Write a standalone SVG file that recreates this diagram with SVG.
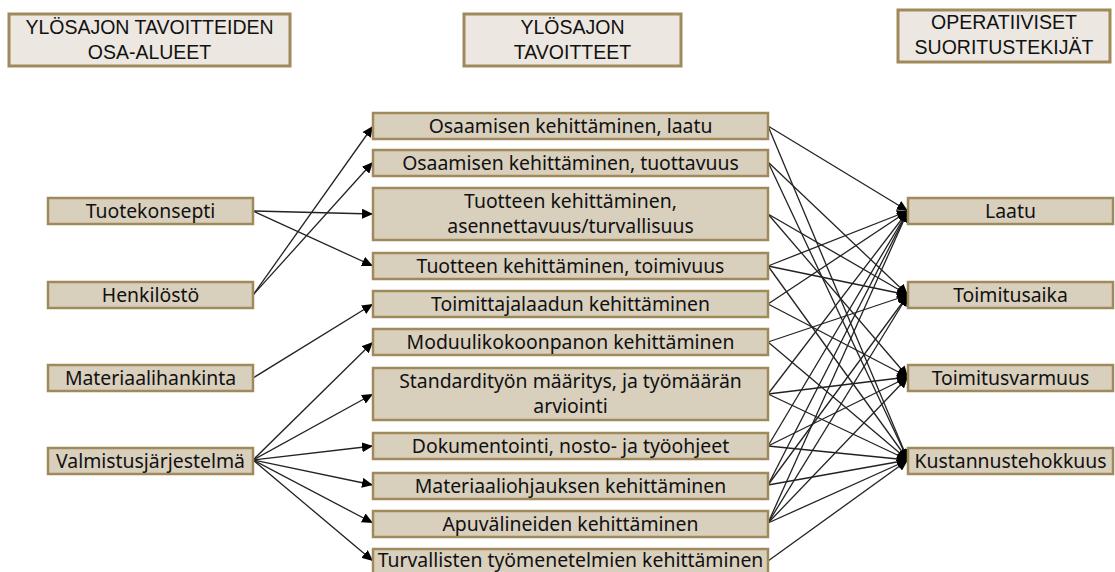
<svg xmlns="http://www.w3.org/2000/svg" width="1115" height="572" viewBox="0 0 1115 572">
  <style>
    .hdr rect { fill: #ece7e0; stroke: #a08a5c; stroke-width: 3; }
    .hdr text { font-family: "Liberation Sans", Arial, sans-serif; font-size: 19.5px; fill: #111; text-anchor: middle; }
    .node rect { fill: #d9cfbd; stroke: #a08a5c; stroke-width: 2.5; }
    .node text { font-family: "Noto Sans", "Open Sans", sans-serif; font-size: 19.4px; fill: #111; text-anchor: middle; }
    #connectors line { stroke: #222; stroke-width: 1.3; marker-end: url(#arrow); }
  </style>
  <defs>
    <marker id="arrow" markerUnits="userSpaceOnUse" markerWidth="12" markerHeight="10" refX="11" refY="5" orient="auto">
      <path d="M0,0 L11,5 L0,10 Z" fill="#000"/>
    </marker>
  </defs>
  <rect width="1115" height="572" fill="#fff"/>

  <!-- column headers -->
  <g id="hdr-osa-alueet" class="hdr">
    <rect x="9" y="14" width="281" height="52"/>
    <text x="149.5" y="34">YLÖSAJON TAVOITTEIDEN</text>
    <text x="149.5" y="59">OSA-ALUEET</text>
  </g>
  <g id="hdr-tavoitteet" class="hdr">
    <rect x="464" y="14" width="217" height="52"/>
    <text x="572.5" y="34">YLÖSAJON</text>
    <text x="572.5" y="59">TAVOITTEET</text>
  </g>
  <g id="hdr-suoritustekijat" class="hdr">
    <rect x="898" y="10" width="212" height="52"/>
    <text x="1004" y="29">OPERATIIVISET</text>
    <text x="1004" y="54">SUORITUSTEKIJÄT</text>
  </g>

  <!-- connectors -->
  <g id="connectors">
    <!-- left column to goals -->
    <line x1="253" y1="211" x2="373" y2="214"/>
    <line x1="253" y1="211" x2="373" y2="266"/>
    <line x1="253" y1="295" x2="373" y2="126"/>
    <line x1="253" y1="295" x2="373" y2="162"/>
    <line x1="253" y1="378" x2="373" y2="304"/>
    <line x1="253" y1="460" x2="373" y2="342"/>
    <line x1="253" y1="460" x2="373" y2="394"/>
    <line x1="253" y1="460" x2="373" y2="446"/>
    <line x1="253" y1="460" x2="373" y2="485"/>
    <line x1="253" y1="460" x2="373" y2="523"/>
    <line x1="253" y1="460" x2="373" y2="561"/>
    <!-- goals to performance factors -->
    <line x1="768" y1="126" x2="908" y2="211"/>
    <line x1="768" y1="126" x2="908" y2="460"/>
    <line x1="768" y1="162" x2="908" y2="295"/>
    <line x1="768" y1="162" x2="908" y2="460"/>
    <line x1="768" y1="214" x2="908" y2="295"/>
    <line x1="768" y1="214" x2="908" y2="377"/>
    <line x1="768" y1="266" x2="908" y2="211"/>
    <line x1="768" y1="266" x2="908" y2="295"/>
    <line x1="768" y1="266" x2="908" y2="460"/>
    <line x1="768" y1="304" x2="908" y2="211"/>
    <line x1="768" y1="304" x2="908" y2="377"/>
    <line x1="768" y1="342" x2="908" y2="295"/>
    <line x1="768" y1="342" x2="908" y2="460"/>
    <line x1="768" y1="394" x2="908" y2="211"/>
    <line x1="768" y1="394" x2="908" y2="377"/>
    <line x1="768" y1="394" x2="908" y2="460"/>
    <line x1="768" y1="446" x2="908" y2="211"/>
    <line x1="768" y1="446" x2="908" y2="377"/>
    <line x1="768" y1="446" x2="908" y2="460"/>
    <line x1="768" y1="485" x2="908" y2="211"/>
    <line x1="768" y1="485" x2="908" y2="295"/>
    <line x1="768" y1="485" x2="908" y2="460"/>
    <line x1="768" y1="523" x2="908" y2="211"/>
    <line x1="768" y1="523" x2="908" y2="295"/>
    <line x1="768" y1="523" x2="908" y2="377"/>
    <line x1="768" y1="523" x2="908" y2="460"/>
    <line x1="768" y1="561" x2="908" y2="460"/>
  </g>

  <!-- left column -->
  <g id="tuotekonsepti" class="node">
    <rect x="48" y="198" width="205" height="26"/>
    <text x="150.5" y="218">Tuotekonsepti</text>
  </g>
  <g id="henkilosto" class="node">
    <rect x="48" y="282" width="205" height="26"/>
    <text x="150.5" y="302">Henkilöstö</text>
  </g>
  <g id="materiaalihankinta" class="node">
    <rect x="48" y="365" width="205" height="26"/>
    <text x="150.5" y="385">Materiaalihankinta</text>
  </g>
  <g id="valmistusjarjestelma" class="node">
    <rect x="48" y="448" width="205" height="26"/>
    <text x="150.5" y="468">Valmistusjärjestelmä</text>
  </g>

  <!-- goals column -->
  <g id="osaaminen-laatu" class="node">
    <rect x="373" y="113" width="395" height="26"/>
    <text x="570.5" y="133">Osaamisen kehittäminen, laatu</text>
  </g>
  <g id="osaaminen-tuottavuus" class="node">
    <rect x="373" y="150" width="395" height="26"/>
    <text x="570.5" y="170">Osaamisen kehittäminen, tuottavuus</text>
  </g>
  <g id="tuote-asennettavuus" class="node">
    <rect x="373" y="188" width="395" height="52"/>
    <text x="570.5" y="208">Tuotteen kehittäminen,</text>
    <text x="570.5" y="233">asennettavuus/turvallisuus</text>
  </g>
  <g id="tuote-toimivuus" class="node">
    <rect x="373" y="253" width="395" height="26"/>
    <text x="570.5" y="273">Tuotteen kehittäminen, toimivuus</text>
  </g>
  <g id="toimittajalaatu" class="node">
    <rect x="373" y="291" width="395" height="26"/>
    <text x="570.5" y="311">Toimittajalaadun kehittäminen</text>
  </g>
  <g id="moduulikokoonpano" class="node">
    <rect x="373" y="329" width="395" height="26"/>
    <text x="570.5" y="349">Moduulikokoonpanon kehittäminen</text>
  </g>
  <g id="standardityo" class="node">
    <rect x="373" y="368" width="395" height="52"/>
    <text x="570.5" y="388">Standardityön määritys, ja työmäärän</text>
    <text x="570.5" y="413">arviointi</text>
  </g>
  <g id="dokumentointi" class="node">
    <rect x="373" y="433" width="395" height="26"/>
    <text x="570.5" y="453">Dokumentointi, nosto- ja työohjeet</text>
  </g>
  <g id="materiaaliohjaus" class="node">
    <rect x="373" y="473" width="395" height="26"/>
    <text x="570.5" y="493">Materiaaliohjauksen kehittäminen</text>
  </g>
  <g id="apuvalineet" class="node">
    <rect x="373" y="511" width="395" height="26"/>
    <text x="570.5" y="531">Apuvälineiden kehittäminen</text>
  </g>
  <g id="tyomenetelmat" class="node">
    <rect x="373" y="549" width="395" height="30"/>
    <text x="570.5" y="567">Turvallisten työmenetelmien kehittäminen</text>
  </g>

  <!-- performance factors -->
  <g id="laatu" class="node">
    <rect x="908" y="198" width="205" height="26"/>
    <text x="1010.5" y="218">Laatu</text>
  </g>
  <g id="toimitusaika" class="node">
    <rect x="908" y="282" width="205" height="26"/>
    <text x="1010.5" y="302">Toimitusaika</text>
  </g>
  <g id="toimitusvarmuus" class="node">
    <rect x="908" y="365" width="205" height="26"/>
    <text x="1010.5" y="385">Toimitusvarmuus</text>
  </g>
  <g id="kustannustehokkuus" class="node">
    <rect x="908" y="448" width="205" height="26"/>
    <text x="1010.5" y="468">Kustannustehokkuus</text>
  </g>
</svg>
